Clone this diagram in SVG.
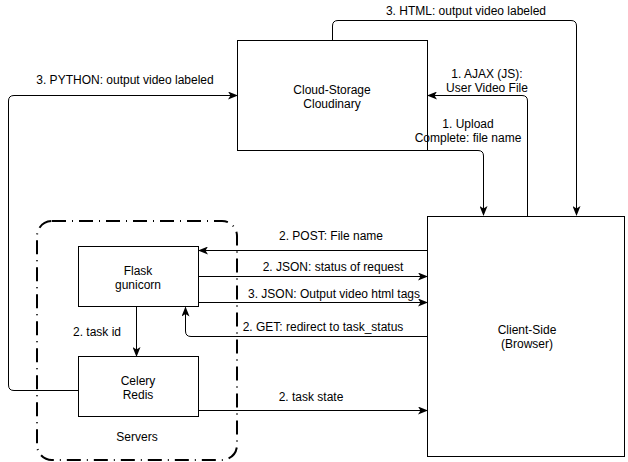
<svg xmlns="http://www.w3.org/2000/svg" width="628" height="462" viewBox="0 0 628 462">
<defs>
<marker id="arr" viewBox="0 0 10 8" refX="9" refY="4" markerWidth="10" markerHeight="8" markerUnits="userSpaceOnUse" orient="auto">
<path d="M0,0 L10,4 L0,8 L2.5,4 z" fill="#000"/>
</marker>
<style>
.box{fill:#fff;stroke:#000;stroke-width:1}
.t{font-family:"Liberation Sans",Arial,sans-serif;font-size:12px;fill:#000;text-anchor:middle}
.c{fill:none;stroke:#000;stroke-width:1}
.a{marker-end:url(#arr)}
</style>
</defs>
<rect width="628" height="462" fill="#fff"/>
<g id="servers">
<rect x="37" y="221" width="200" height="239" rx="15" ry="15" fill="none" stroke="#000" stroke-width="2" stroke-dasharray="14 6 1 6"/>
<text class="t" x="137" y="441">Servers</text>
</g>
<g id="cloud">
<rect class="box" x="237.5" y="40.5" width="190" height="110"/>
<text class="t" x="332" y="94">Cloud-Storage</text>
<text class="t" x="332" y="108">Cloudinary</text>
</g>
<g id="client">
<rect class="box" x="427.5" y="216.5" width="197" height="240"/>
<text class="t" x="527" y="334">Client-Side</text>
<text class="t" x="527" y="348">(Browser)</text>
</g>
<g id="flask">
<rect class="box" x="78.5" y="246.5" width="120" height="60"/>
<text class="t" x="138" y="275">Flask</text>
<text class="t" x="138" y="289">gunicorn</text>
</g>
<g id="celery">
<rect class="box" x="78.5" y="356.5" width="120" height="60"/>
<text class="t" x="138" y="385">Celery</text>
<text class="t" x="138" y="399">Redis</text>
</g>
<g id="connectors">
<path class="c a" d="M78,390.5 L14,390.5 Q8.5,390.5 8.5,385 L8.5,101 Q8.5,95.5 14,95.5 L237,95.5"/>
<text class="t" x="125" y="84">3. PYTHON: output video labeled</text>
<path class="c a" d="M332.5,40 L332.5,26 Q332.5,20.5 338,20.5 L571,20.5 Q576.5,20.5 576.5,26 L576.5,215"/>
<text class="t" x="466" y="15">3. HTML: output video labeled</text>
<path class="c a" d="M527.5,216 L527.5,101 Q527.5,95.5 522,95.5 L428,95.5"/>
<text class="t" x="487" y="78">1. AJAX (JS):</text>
<text class="t" x="487" y="92">User Video File</text>
<path class="c a" d="M427.5,150.5 L478,150.5 Q483.5,150.5 483.5,156 L483.5,215"/>
<text class="t" x="468" y="128">1. Upload</text>
<text class="t" x="468" y="142">Complete: file name</text>
<path class="c a" d="M427,250.5 L199,250.5"/>
<text class="t" x="331" y="240">2. POST: File name</text>
<path class="c a" d="M198.5,276.5 L427,276.5"/>
<text class="t" x="333" y="271">2. JSON: status of request</text>
<path class="c a" d="M198.5,302.5 L427,302.5"/>
<text class="t" x="334" y="298">3. JSON: Output video html tags</text>
<path class="c a" d="M427,336.5 L191,336.5 Q185.5,336.5 185.5,331 L185.5,307.5"/>
<text class="t" x="323" y="331">2. GET: redirect to task_status</text>
<path class="c a" d="M136.5,307 L136.5,356"/>
<text class="t" x="97" y="336">2. task id</text>
<path class="c a" d="M198.5,410.5 L427,410.5"/>
<text class="t" x="311" y="401">2. task state</text>
</g>
</svg>
